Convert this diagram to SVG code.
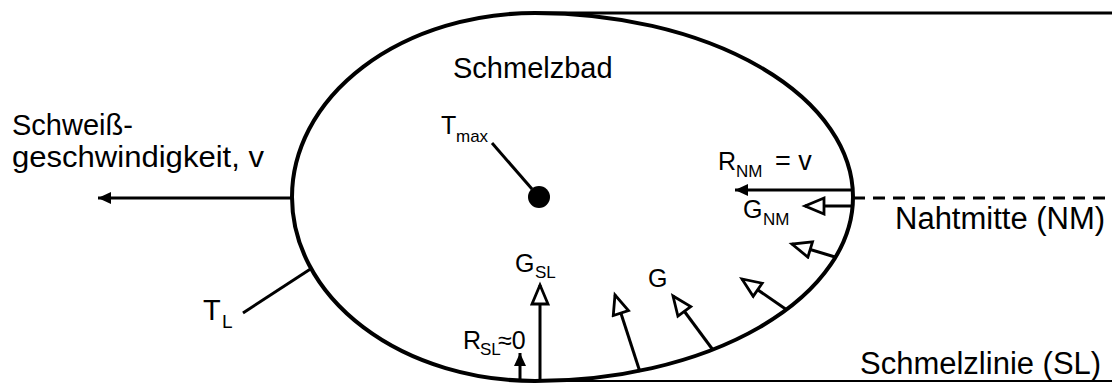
<svg xmlns="http://www.w3.org/2000/svg" width="1112" height="383" viewBox="0 0 1112 383">
<style>
text{font-family:"Liberation Sans",Arial,sans-serif;fill:#000}
.l{font-size:29px}
.m{font-size:25px}
.s{font-size:17px}
.ln{stroke:#000;stroke-width:3;fill:none}
.open{marker-end:url(#open)}
.fill{marker-end:url(#filled)}
</style>
<defs>
<marker id="open" markerUnits="userSpaceOnUse" markerWidth="26" markerHeight="22" refX="19" refY="8" orient="auto" viewBox="-2 -2 26 22">
<path d="M0,0 L19,8 L0,16 Z" fill="#fff" stroke="#000" stroke-width="2.8" stroke-linejoin="miter"/>
</marker>
<marker id="filled" markerUnits="userSpaceOnUse" markerWidth="16" markerHeight="14" refX="13" refY="6" orient="auto" viewBox="0 0 16 14">
<path d="M0,0 L13,6 L0,12 Z" fill="#000"/>
</marker>
</defs>
<rect width="1112" height="383" fill="#fff"/>
<g id="pool">
<path d="M292,197 A243,184 0 0 1 535,13 A318,184 0 0 1 853,197 A318,184 0 0 1 535,381 A243,184 0 0 1 292,197 Z" fill="none" stroke="#000" stroke-width="4"/>
<text class="l" x="453" y="78">Schmelzbad</text>
</g>
<g id="borders">
<line x1="535" y1="13" x2="1112" y2="13" stroke="#000" stroke-width="3"/>
<line x1="535" y1="381" x2="1112" y2="381" stroke="#000" stroke-width="2"/>
<line x1="853" y1="198" x2="1112" y2="198" stroke="#000" stroke-width="3" stroke-dasharray="12,8"/>
</g>
<g id="tmax">
<circle cx="539" cy="197" r="11" fill="#000"/>
<text class="m" x="441" y="134">T</text>
<text class="s" x="456" y="142">max</text>
</g>
<g id="labels">
<text class="l" x="12" y="135">Schweiß-</text>
<text class="l" x="12" y="167" textLength="252" lengthAdjust="spacingAndGlyphs">geschwindigkeit, v</text>
<text class="l" x="203" y="320">T</text>
<text style="font-size:19px" x="222" y="328">L</text>
<text class="m" x="718" y="170">R</text>
<text class="s" x="736" y="177">NM</text>
<text style="font-size:27px" x="775" y="170">= v</text>
<text class="m" x="743" y="218">G</text>
<text class="s" x="763" y="225">NM</text>
<text style="font-size:31px" x="895" y="229">Nahtmitte (NM)</text>
<text class="m" x="515" y="272">G</text>
<text class="s" x="535" y="278">SL</text>
<text class="m" x="648" y="287">G</text>
<text class="m" x="463" y="349">R</text>
<text class="s" x="480" y="355">SL</text>
<text class="m" x="498" y="349">≈0</text>
<text style="font-size:31px" x="860" y="374">Schmelzlinie (SL)</text>
</g>
<g id="connectors">
<line class="ln" x1="492" y1="143" x2="532" y2="189"/>
<line class="ln" x1="243" y1="313" x2="312" y2="268"/>
<line class="ln fill" x1="293" y1="198" x2="98" y2="198"/>
<line class="ln fill" x1="852" y1="190" x2="735" y2="190"/>
<line class="ln fill" x1="520" y1="381" x2="520" y2="353"/>
<line class="ln open" x1="540" y1="381" x2="540" y2="285"/>
<line class="ln open" x1="640" y1="372" x2="615" y2="295"/>
<line class="ln open" x1="713" y1="350" x2="673" y2="296"/>
<line class="ln open" x1="787" y1="310" x2="742" y2="279"/>
<line class="ln open" x1="835" y1="257" x2="792" y2="244"/>
<line class="ln open" x1="852" y1="206" x2="805" y2="206"/>
</g>
</svg>
